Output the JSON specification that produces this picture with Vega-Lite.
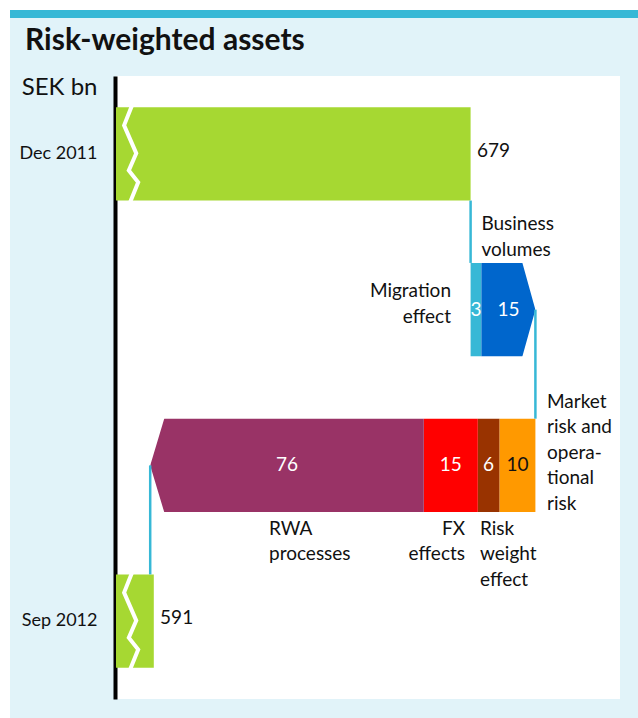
{
  "$schema": "https://vega.github.io/schema/vega-lite/v6.json",
  "background": "#e1f3f9",
  "padding": 0,
  "spacing": 0,
  "bounds": "flush",
  "config": {
    "view": {"stroke": null},
    "font": "Lato",
    "concat": {"spacing": 0},
    "text": {"font": "Lato", "fontSize": 19, "color": "#111111"}
  },
  "datasets": {
    "steps": [
      {"step": "Dec 2011", "row": "Dec 2011", "start": 0, "end": 679, "value": 679, "kind": "total", "label": ""},
      {"step": "Migration effect", "row": "Increase", "start": 679, "end": 682, "value": 3, "kind": "change", "label": "Migration\neffect"},
      {"step": "Business volumes", "row": "Increase", "start": 682, "end": 697, "value": 15, "kind": "change", "label": "Business\nvolumes"},
      {"step": "Market risk and operational risk", "row": "Decrease", "start": 697, "end": 687, "value": 10, "kind": "change", "label": "Market\nrisk and\nopera-\ntional\nrisk"},
      {"step": "Risk weight effect", "row": "Decrease", "start": 687, "end": 681, "value": 6, "kind": "change", "label": "Risk\nweight\neffect"},
      {"step": "FX effects", "row": "Decrease", "start": 681, "end": 666, "value": 15, "kind": "change", "label": "FX\neffects"},
      {"step": "RWA processes", "row": "Decrease", "start": 666, "end": 590, "value": 76, "kind": "change", "label": "RWA\nprocesses"},
      {"step": "Sep 2012", "row": "Sep 2012", "start": 0, "end": 591, "value": 591, "kind": "total", "label": ""}
    ],
    "links": [
      {"link": "a", "value": 679, "from": "Dec 2011", "to": "Increase"},
      {"link": "b", "value": 697, "from": "Increase", "to": "Decrease"},
      {"link": "c", "value": 590, "from": "Decrease", "to": "Sep 2012"}
    ],
    "blank": [{"k": 1}]
  },
  "vconcat": [
    {"width": 638, "height": 10, "view": {"fill": "#ffffff"}, "data": {"name": "blank"}, "mark": {"type": "point", "opacity": 0}, "encoding": {}},
    {
      "spacing": 0,
      "bounds": "flush",
      "hconcat": [
        {"width": 10, "height": 708, "view": {"fill": "#ffffff"}, "data": {"name": "blank"}, "mark": {"type": "point", "opacity": 0}, "encoding": {}},
        {
          "spacing": 0,
          "bounds": "flush",
          "vconcat": [
            {"width": 628, "height": 8, "view": {"fill": "#37b8d6"}, "data": {"name": "blank"}, "mark": {"type": "point", "opacity": 0}, "encoding": {}},
            {"width": 628, "height": 58, "data": {"name": "blank"}, "mark": {"type": "point", "opacity": 0}, "encoding": {}},
            {
              "spacing": 0,
              "bounds": "flush",
              "hconcat": [
                {"width": 106, "height": 623, "data": {"name": "blank"}, "mark": {"type": "point", "opacity": 0}, "encoding": {}},
                {
                  "width": 504,
                  "height": 623,
                  "view": {"fill": "#ffffff"},
                  "title": {"text": "Risk-weighted assets", "anchor": "start", "frame": "group", "dx": -91, "offset": -5, "baseline": "alphabetic", "font": "Lato", "fontSize": 30, "fontWeight": "bold", "color": "#111111"},
                  "layer": [
                    {
                      "data": {"name": "steps"},
                      "mark": {"type": "bar"},
                      "encoding": {
                        "x": {"field": "start", "type": "quantitative", "scale": {"domain": [580.5, 720.5], "clamp": true, "zero": false, "nice": false}, "axis": null},
                        "x2": {"field": "end"},
                        "y": {"field": "row", "type": "nominal", "scale": {"domain": ["Dec 2011", "Increase", "Decrease", "Sep 2012"], "paddingInner": 0.4, "paddingOuter": 0.2},
                          "axis": {"title": "SEK bn", "values": ["Dec 2011", "Sep 2012"], "ticks": false, "grid": false, "domain": true, "domainColor": "#000000", "domainWidth": 4, "offset": 1, "labelFont": "Lato", "labelFontSize": 18, "labelColor": "#111111", "labelPadding": 18, "labelBaseline": "middle", "titleAngle": 0, "titleX": -18, "titleY": 18, "titleAlign": "right", "titleBaseline": "alphabetic", "titleFont": "Lato", "titleFontSize": 24, "titleFontWeight": "normal", "titleColor": "#111111"}},
                        "color": {"field": "step", "type": "nominal", "legend": null,
                          "scale": {"domain": ["Dec 2011", "Migration effect", "Business volumes", "Market risk and operational risk", "Risk weight effect", "FX effects", "RWA processes", "Sep 2012"],
                                    "range": ["#a6d832", "#37b8d6", "#0066cc", "#ff9900", "#993300", "#ff0000", "#993366", "#a6d832"]}}
                      }
                    },
                    {
                      "data": {"name": "steps"},
                      "transform": [{"filter": "datum.step === 'Business volumes' || datum.step === 'RWA processes'"}],
                      "mark": {"type": "point", "filled": true, "fill": "#ffffff", "color": "#ffffff", "strokeWidth": 0, "opacity": 1, "size": 8733},
                      "encoding": {
                        "x": {"field": "end", "type": "quantitative", "scale": {"domain": [580.5, 720.5], "clamp": true, "zero": false, "nice": false}, "axis": null},
                        "y": {"field": "row", "type": "nominal"},
                        "shape": {"condition": {"test": "datum.step === 'Business volumes'", "value": "M-0.3,-1.08L0.15,-1.08L0.15,1.08L-0.3,1.08L0,0Z"}, "value": "M0.324,-1.08L-0.15,-1.08L-0.15,1.08L0.324,1.08L0,0Z"}
                      }
                    },
                    {
                      "data": {"name": "steps"},
                      "transform": [{"filter": "datum.kind === 'total'"}],
                      "mark": {"type": "point", "filled": false, "fill": null, "stroke": "#ffffff", "strokeWidth": 4, "opacity": 1, "size": 8733, "xOffset": 15, "strokeJoin": "miter",
                               "shape": "M0.046,-1.1L0.006,-0.996L-0.148,-0.61L0.113,-0.011L-0.047,0.353L0.154,0.61L-0.004,0.996L-0.045,1.1"},
                      "encoding": {
                        "x": {"field": "start", "type": "quantitative", "scale": {"domain": [580.5, 720.5], "clamp": true, "zero": false, "nice": false}, "axis": null},
                        "y": {"field": "row", "type": "nominal"}
                      }
                    },
                    {
                      "data": {"name": "links"},
                      "transform": [{"filter": "datum.link === 'a'"}],
                      "mark": {"type": "rule", "color": "#37b8d6", "strokeWidth": 2.5, "yOffset": 46.7, "y2Offset": -46.7},
                      "encoding": {
                        "x": {"field": "value", "type": "quantitative", "scale": {"domain": [580.5, 720.5], "clamp": true, "zero": false, "nice": false}, "axis": null},
                        "y": {"field": "from", "type": "nominal"},
                        "y2": {"field": "to"}
                      }
                    },
                    {
                      "data": {"name": "links"},
                      "transform": [{"filter": "datum.link !== 'a'"}],
                      "mark": {"type": "rule", "color": "#37b8d6", "strokeWidth": 2.5, "yOffset": 0, "y2Offset": -46.7},
                      "encoding": {
                        "x": {"field": "value", "type": "quantitative", "scale": {"domain": [580.5, 720.5], "clamp": true, "zero": false, "nice": false}, "axis": null},
                        "y": {"field": "from", "type": "nominal"},
                        "y2": {"field": "to"}
                      }
                    },
                    {
                      "data": {"name": "steps"},
                      "transform": [
                        {"filter": "datum.kind === 'change'"},
                        {"fold": ["start", "end"], "as": ["edge", "pos"]}
                      ],
                      "mark": {"type": "text", "align": "center", "baseline": "middle", "fontSize": 19},
                      "encoding": {
                        "x": {"field": "pos", "aggregate": "mean", "type": "quantitative", "scale": {"domain": [580.5, 720.5], "clamp": true, "zero": false, "nice": false}, "axis": null},
                        "y": {"field": "row", "type": "nominal"},
                        "detail": {"field": "step", "type": "nominal"},
                        "text": {"field": "value", "type": "quantitative"},
                        "color": {"condition": {"test": "datum.step === 'Market risk and operational risk'", "value": "#111111"}, "value": "#ffffff"}
                      }
                    },
                    {
                      "data": {"name": "steps"},
                      "transform": [{"filter": "datum.kind === 'total'"}],
                      "mark": {"type": "text", "align": "left", "baseline": "alphabetic", "dx": 6.3, "dy": 3, "fontSize": 19},
                      "encoding": {
                        "x": {"field": "end", "type": "quantitative", "scale": {"domain": [580.5, 720.5], "clamp": true, "zero": false, "nice": false}, "axis": null},
                        "y": {"field": "row", "type": "nominal"},
                        "text": {"field": "value", "type": "quantitative"}
                      }
                    },
                    {
                      "data": {"name": "steps"},
                      "transform": [{"filter": "datum.step === 'Migration effect'"}],
                      "mark": {"type": "text", "align": "right", "baseline": "alphabetic", "dx": -19.6, "dy": -12.6, "lineBreak": "\n", "lineHeight": 25.7, "fontSize": 19},
                      "encoding": {
                        "x": {"field": "start", "type": "quantitative", "scale": {"domain": [580.5, 720.5], "clamp": true, "zero": false, "nice": false}, "axis": null},
                        "y": {"field": "row", "type": "nominal"},
                        "text": {"field": "label"}
                      }
                    },
                    {
                      "data": {"name": "steps"},
                      "transform": [{"filter": "datum.step === 'Business volumes'"}],
                      "mark": {"type": "text", "align": "left", "baseline": "alphabetic", "dx": 0, "dy": -79.6, "lineBreak": "\n", "lineHeight": 25.5, "fontSize": 19},
                      "encoding": {
                        "x": {"field": "start", "type": "quantitative", "scale": {"domain": [580.5, 720.5], "clamp": true, "zero": false, "nice": false}, "axis": null},
                        "y": {"field": "row", "type": "nominal"},
                        "text": {"field": "label"}
                      }
                    },
                    {
                      "data": {"name": "steps"},
                      "transform": [{"filter": "datum.step === 'Market risk and operational risk'"}],
                      "mark": {"type": "text", "align": "left", "baseline": "alphabetic", "dx": 11.6, "dy": -57.4, "lineBreak": "\n", "lineHeight": 25.5, "fontSize": 19},
                      "encoding": {
                        "x": {"field": "start", "type": "quantitative", "scale": {"domain": [580.5, 720.5], "clamp": true, "zero": false, "nice": false}, "axis": null},
                        "y": {"field": "row", "type": "nominal"},
                        "text": {"field": "label"}
                      }
                    },
                    {
                      "data": {"name": "steps"},
                      "transform": [{"filter": "datum.step === 'RWA processes'"}],
                      "mark": {"type": "text", "align": "left", "baseline": "alphabetic", "dx": 118.8, "dy": 69.6, "lineBreak": "\n", "lineHeight": 25.5, "fontSize": 19},
                      "encoding": {
                        "x": {"field": "end", "type": "quantitative", "scale": {"domain": [580.5, 720.5], "clamp": true, "zero": false, "nice": false}, "axis": null},
                        "y": {"field": "row", "type": "nominal"},
                        "text": {"field": "label"}
                      }
                    },
                    {
                      "data": {"name": "steps"},
                      "transform": [{"filter": "datum.step === 'FX effects'"}],
                      "mark": {"type": "text", "align": "right", "baseline": "alphabetic", "dx": -12.8, "dy": 69.6, "lineBreak": "\n", "lineHeight": 25.5, "fontSize": 19},
                      "encoding": {
                        "x": {"field": "start", "type": "quantitative", "scale": {"domain": [580.5, 720.5], "clamp": true, "zero": false, "nice": false}, "axis": null},
                        "y": {"field": "row", "type": "nominal"},
                        "text": {"field": "label"}
                      }
                    },
                    {
                      "data": {"name": "steps"},
                      "transform": [{"filter": "datum.step === 'Risk weight effect'"}],
                      "mark": {"type": "text", "align": "left", "baseline": "alphabetic", "dx": 2.2, "dy": 69.6, "lineBreak": "\n", "lineHeight": 25.5, "fontSize": 19},
                      "encoding": {
                        "x": {"field": "end", "type": "quantitative", "scale": {"domain": [580.5, 720.5], "clamp": true, "zero": false, "nice": false}, "axis": null},
                        "y": {"field": "row", "type": "nominal"},
                        "text": {"field": "label"}
                      }
                    }
                  ]
                }
              ]
            },
            {"width": 628, "height": 19, "data": {"name": "blank"}, "mark": {"type": "point", "opacity": 0}, "encoding": {}}
          ]
        }
      ]
    }
  ]
}
